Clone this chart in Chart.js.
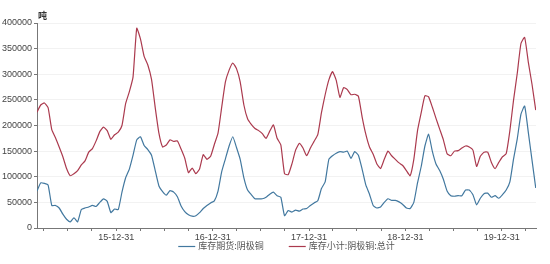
<!DOCTYPE html>
<html><head><meta charset="utf-8">
<script src="https://cdn.jsdelivr.net/npm/chart.js@4/dist/chart.umd.min.js"></script>
<style>html,body{margin:0;padding:0;background:#fff}#wrap{width:550px;height:264px}</style>
</head><body><div id="wrap"><canvas id="c" width="550" height="264"></canvas></div>
<script>
const dates = [
'2015-03-06','2015-03-20','2015-04-03','2015-04-17','2015-05-01','2015-05-15','2015-05-29','2015-06-12','2015-06-26','2015-07-10','2015-07-24','2015-08-07','2015-08-21','2015-09-04','2015-09-18','2015-10-02','2015-10-16','2015-10-30','2015-11-13','2015-11-27','2015-12-11','2015-12-25',
'2016-01-08','2016-01-22','2016-02-05','2016-02-19','2016-03-04','2016-03-18','2016-04-01','2016-04-15','2016-04-29','2016-05-13','2016-05-27','2016-06-10','2016-06-24','2016-07-08','2016-07-22','2016-08-05','2016-08-19','2016-09-02','2016-09-16','2016-09-30','2016-10-14','2016-10-28','2016-11-11','2016-11-25','2016-12-09','2016-12-23',
'2017-01-06','2017-01-20','2017-02-03','2017-02-17','2017-03-03','2017-03-17','2017-03-31','2017-04-14','2017-04-28','2017-05-12','2017-05-26','2017-06-09','2017-06-23','2017-07-07','2017-07-21','2017-08-04','2017-08-18','2017-09-01','2017-09-15','2017-09-29','2017-10-13','2017-10-27','2017-11-10','2017-11-24','2017-12-08','2017-12-22',
'2018-01-05','2018-01-19','2018-02-02','2018-02-16','2018-03-02','2018-03-16','2018-03-30','2018-04-13','2018-04-27','2018-05-11','2018-05-25','2018-06-08','2018-06-22','2018-07-06','2018-07-20','2018-08-03','2018-08-17','2018-08-31','2018-09-14','2018-09-28','2018-10-12','2018-10-26','2018-11-09','2018-11-23','2018-12-07','2018-12-21',
'2019-01-04','2019-01-18','2019-02-01','2019-02-15','2019-03-01','2019-03-15','2019-03-29','2019-04-12','2019-04-26','2019-05-10','2019-05-24','2019-06-07','2019-06-21','2019-07-05','2019-07-19','2019-08-02','2019-08-16','2019-08-30','2019-09-13','2019-09-27','2019-10-11','2019-10-25','2019-11-08','2019-11-22','2019-12-06','2019-12-20',
'2020-01-03','2020-01-17','2020-01-31','2020-02-14','2020-02-28','2020-03-13','2020-03-27','2020-04-10','2020-04-24','2020-05-08'
];
const futuresCu = [
72000,88000,87000,84000,44000,44000,39000,27000,17000,12000,20000,12000,36000,39000,41000,44000,42000,50000,57000,52000,30000,37000,
36000,70000,98000,115000,142000,172000,178000,161000,153000,142000,112000,82000,71000,64000,73000,70000,61000,43000,32000,26000,23000,24000,30000,38000,44000,49000,
53000,72000,110000,135000,160000,178000,157000,134000,98000,74000,65000,57000,57000,57000,60000,66000,70000,63000,60000,24000,34000,31000,35000,33000,37000,38000,
44000,49000,53000,77000,90000,134000,141000,146000,149000,148000,150000,136000,149000,142000,115000,84000,66000,44000,39000,41000,50000,57000,54000,54000,51000,46000,
39000,38000,50000,88000,120000,160000,183000,150000,125000,112000,95000,72000,63000,62000,63000,63000,74000,74000,65000,45000,58000,67000,68000,60000,63000,58000,
65000,74000,90000,135000,174000,222000,238000,186000,132000,78000
];
const totalCu = [
226000,240000,244000,235000,192000,176000,158000,139000,116000,102000,106000,112000,123000,131000,148000,155000,170000,188000,197000,190000,173000,182000,
187000,200000,243000,266000,295000,390000,369000,335000,318000,290000,235000,185000,158000,162000,172000,169000,170000,154000,136000,108000,117000,106000,115000,143000,134000,140000,
163000,185000,236000,285000,308000,322000,311000,285000,240000,213000,202000,194000,190000,184000,175000,189000,201000,175000,162000,106000,104000,125000,152000,165000,156000,141000,
156000,169000,182000,225000,260000,289000,305000,288000,255000,274000,270000,260000,261000,257000,217000,183000,158000,144000,125000,116000,134000,150000,141000,134000,127000,122000,
112000,102000,134000,190000,225000,258000,256000,236000,214000,193000,172000,145000,141000,150000,151000,156000,160000,158000,152000,120000,140000,148000,148000,128000,116000,128000,
139000,145000,190000,250000,302000,360000,372000,323000,280000,230000
];
const seriesNames = ['库存期货:阴极铜','库存小计:阴极铜:总计'];
const seriesColors = ['#42789f', '#ab3a4e'];
const yTicks = [0,50000,100000,150000,200000,250000,300000,350000,400000];
const unitLabel = '吨';

const dayNum = s => { const p = s.split('-').map(Number); return Date.UTC(p[0], p[1]-1, p[2]) / 86400000; };
const xs = dates.map(dayNum);
const quarterTicks = [];
for (let y = 2015; y <= 2020; y++) {
  [[3,31],[6,30],[9,30],[12,31]].forEach(([m,d]) => {
    const v = Date.UTC(y, m-1, d) / 86400000;
    if (v >= xs[0] && v <= xs[xs.length-1] + 2) quarterTicks.push({value: v, label: m === 12 ? String(y).slice(2) + '-12-31' : ''});
  });
}
const labelFor = {};
quarterTicks.forEach(t => labelFor[t.value] = t.label);

const unitPlugin = {
  id: 'unit',
  afterDraw(chart) {
    const ctx = chart.ctx, a = chart.chartArea;
    ctx.save();
    ctx.font = 'bold 9px "Noto Sans CJK SC"';
    ctx.fillStyle = '#333';
    ctx.textBaseline = 'bottom';
    ctx.textAlign = 'left';
    ctx.fillText(unitLabel, a.left + 1, a.top - 3);
    // legend
    ctx.font = '9px "Noto Sans CJK SC"';
    ctx.textBaseline = 'middle';
    const lineW = 17, gapT = 3, gapItems = 25;
    const widths = chart.data.datasets.map(ds => lineW + gapT + ctx.measureText(ds.label).width);
    const total = widths.reduce((s, w) => s + w, 0) + gapItems * (widths.length - 1);
    let x = (a.left + a.right) / 2 - total / 2;
    const yMid = 246;
    chart.data.datasets.forEach((ds, i) => {
      ctx.strokeStyle = ds.borderColor;
      ctx.lineWidth = 1.2;
      ctx.beginPath(); ctx.moveTo(x, yMid + 0.5); ctx.lineTo(x + lineW, yMid + 0.5); ctx.stroke();
      ctx.fillStyle = '#555';
      ctx.fillText(ds.label, x + lineW + gapT, yMid);
      x += widths[i] + gapItems;
    });
    ctx.restore();
  }
};

new Chart(document.getElementById('c'), {
  type: 'line',
  data: {
    datasets: seriesNames.map((name, k) => ({
      label: name,
      data: xs.map((x, i) => ({x, y: (k === 0 ? futuresCu : totalCu)[i]})),
      borderColor: seriesColors[k], backgroundColor: seriesColors[k],
      borderWidth: 1.2, pointRadius: 0, tension: 0.15, fill: false
    }))
  },
  options: {
    responsive: false,
    animation: false,
    layout: { padding: { top: 23, right: 14, left: 0, bottom: 24 } },
    plugins: { legend: { display: false }, tooltip: { enabled: false } },
    scales: {
      x: {
        type: 'linear',
        min: xs[0], max: xs[xs.length-1] + 1,
        afterBuildTicks: s => { s.ticks = quarterTicks.map(t => ({value: t.value})); },
        afterFit: s => { s.height = 12; },
        ticks: { autoSkip: false, maxRotation: 0, padding: 1, font: { family: '"Liberation Sans"', size: 9 }, color: '#444', callback: v => labelFor[v] || '' },
        grid: { drawOnChartArea: false, drawTicks: true, tickLength: 3, tickColor: '#777' },
        border: { color: '#777' }
      },
      y: {
        min: 0, max: 400000,
        afterBuildTicks: s => { s.ticks = yTicks.map(v => ({value: v})); },
        afterFit: s => { s.width = 37; },
        ticks: { padding: 2, font: { family: '"Liberation Sans"', size: 9 }, color: '#444', callback: v => String(v) },
        grid: { color: '#f2f2f2', tickColor: '#777', tickLength: 3, drawTicks: true },
        border: { color: '#777' }
      }
    }
  },
  plugins: [unitPlugin]
});
</script></body></html>
